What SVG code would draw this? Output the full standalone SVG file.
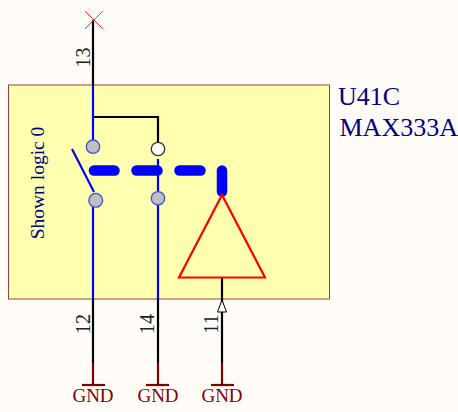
<svg xmlns="http://www.w3.org/2000/svg" width="458" height="412" viewBox="0 0 458 412">
<style>
text{font-family:"Liberation Serif","Times New Roman",serif}
.w{fill:none;stroke-linecap:butt}
.k{stroke:#000;stroke-width:2.200}
.b{stroke:#0000ff;stroke-width:2.200}
.g{stroke:#800000;stroke-width:2.200}
.d{stroke:#0000ff;stroke-width:10.500;stroke-linecap:round;fill:none}
.pin{fill:#202020;font-size:20px;text-anchor:middle}
.gnd{fill:#800000;font-size:19px;text-anchor:middle}
.c{stroke:#3a50e0;stroke-width:1.300;fill:#c0c0c0}
</style>
<rect width="458" height="412" fill="#fffcf8"/>
<g id="U41C">
<rect x="8.500" y="85" width="321" height="214" fill="#ffffb0" stroke="#a04040" stroke-width="1"/>
<text x="338" y="105" font-size="26" fill="#000080">U41C</text>
<text x="339.500" y="136" font-size="26" fill="#000080">MAX333A</text>
<text transform="translate(44,183) rotate(-90)" font-size="19.500" fill="#000080" text-anchor="middle">Shown logic 0</text>
</g>
<g id="connectors">
<path class="w k" d="M93 20V85"/>
<path class="w b" d="M93 85V147"/>
<path class="w k" d="M93 117H158V142"/>
<path class="w b" d="M94 192L72 149"/>
<path class="w b" d="M93 200V299"/>
<path class="w b" d="M158 159V299"/>
<path class="w k" d="M93 299V363"/>
<path class="w k" d="M158 299V363"/>
<path class="w k" d="M222 277V363"/>
<path class="w g" d="M93 363V385"/>
<path class="w g" d="M158 363V385"/>
<path class="w g" d="M222 363V385"/>
<path class="d" d="M94 170.500H114.500"/>
<path class="d" d="M136.500 170.500H157.500"/>
<path class="d" d="M179.500 170.500H200.500"/>
<path class="d" d="M222 170.500V191.500"/>
</g>
<g id="pin13">
<path d="M85 11L103 29M103 11L85 29" stroke="#ff3030" stroke-width="1" fill="none"/>
<text class="pin" transform="translate(90,57.500) rotate(-90)">13</text>
<circle class="c" cx="93" cy="146.700" r="6.700"/>
</g>
<g id="contact-nc"><circle cx="158" cy="149" r="6.700" fill="#fff" stroke="#333" stroke-width="1.300"/></g>
<g id="pin12">
<circle class="c" cx="95.700" cy="200.300" r="6.900"/>
<text class="pin" transform="translate(90,324) rotate(-90)">12</text>
<path class="g" d="M82 385H105" fill="none"/>
<text class="gnd" x="93" y="402">GND</text>
</g>
<g id="pin14">
<circle class="c" cx="158" cy="198.300" r="6.700"/>
<text class="pin" transform="translate(154,324) rotate(-90)">14</text>
<path class="g" d="M146 385H169" fill="none"/>
<text class="gnd" x="158" y="402">GND</text>
</g>
<g id="pin11">
<path d="M179 277.500H265L222 195Z" fill="none" stroke="#ff0000" stroke-width="2.200"/>
<path d="M222 300L217.500 312H226.500Z" fill="#fff" stroke="#000" stroke-width="1"/>
<text class="pin" transform="translate(218,324) rotate(-90)">11</text>
<path class="g" d="M211 385H234" fill="none"/>
<text class="gnd" x="222" y="402">GND</text>
</g>
</svg>
